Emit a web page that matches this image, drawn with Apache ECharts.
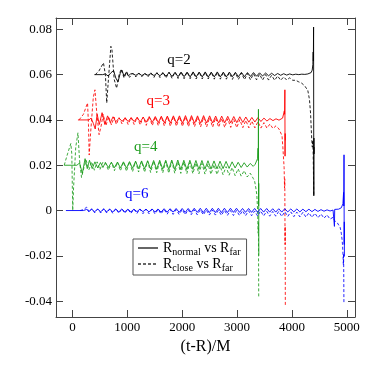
<!DOCTYPE html>
<html>
<head>
<meta charset="utf-8">
<script src="https://cdn.jsdelivr.net/npm/echarts@6/dist/echarts.min.js"></script>
<style>
body{margin:0;background:#fff}
#chart{width:374px;height:374px}
</style>
</head>
<body>
<div id="chart"></div>
<script>
// curves for q = 2, 3, 4, 6, shifted by offsets like in the paper figure
var curveNames = ['q=2', 'q=3', 'q=4', 'q=6'];
var offsets = [0.06, 0.04, 0.02, 0];
var midStart = [1100, 850, 600, 350];
var step = 55;
var xTicks = [0, 1000, 2000, 3000, 4000, 5000];
var yTicks = [-0.04, -0.02, 0, 0.02, 0.04, 0.06, 0.08];

// values below are in units of 1e-3, relative to the offset
// ---- q=2 ----
var q2SolidHead = [[400,0],[550,0],[600,0.3],[650,-0.6],[700,0.8],[750,1.8],[790,-1.5],[830,-3.2],[870,0.5],[900,2.0],[940,-0.6],[980,1.0],[1020,-0.6],[1060,0.4]];
var q2SolidMid = [0.4,-0.3,0.5,-0.4,0.4,-0.3, 0.5,-0.4,0.6,-0.5, 0.8,-0.7,0.9,-0.8, 1.0,-0.9,1.1,-0.9,
  1.1,-1.0,1.2,-1.0,1.1,-1.0, 1.2,-1.1,1.1,-1.0,1.2,-1.0, 1.1,-1.0,1.1,-0.9,1.0,-0.9,
  1.0,-0.9,0.9,-0.8,0.9,-0.7, 0.8,-0.6,0.7,-0.5,0.6,-0.4, 0.5,-0.3,0.4,-0.2,0.3,-0.1, 0.2,0.0,0.2,0.1,0.3];
var q2SolidTail = [[4320,0.4],[4350,0.9],[4370,2.0],[4382,4.5],[4388,10],[4391,6],[4395,21],[4397,-20],[4399,-53.5],[4401,-28],[4403,-35],[4405,-32]];
var q2DashHead = [[415,0],[480,1.5],[565,5.2],[600,0],[625,-12.5],[650,-4],[700,12.5],[720,11],[760,-2],[805,-6],[850,0],[890,2.5],[940,-1.5],[990,1.2],[1040,-1.2]];
var q2DashMid = [0.6,-1.0,0.7,-0.9,0.6,-1.0, 0.8,-1.2,0.9,-1.3, 1.0,-1.5,1.1,-1.6, 1.1,-1.7,1.2,-1.8,
  1.2,-1.8,1.1,-1.9,1.2,-1.9, 1.1,-1.9,1.1,-2.0,1.0,-2.0, 1.0,-2.0,0.9,-2.1,0.8,-2.1,
  0.7,-2.2,0.5,-2.3,0.4,-2.3, 0.2,-2.4,0.0,-2.4,-0.3,-2.5, -0.6,-2.5,-1.0,-2.4,-1.4,-2.5, -2.5,-3.2,-3.8,-5.0,-7.0];
var q2DashTail = [[4320,-11],[4340,-17],[4360,-28],[4372,-32],[4380,-29],[4388,-35],[4394,-45],[4398,-53.5]];

// ---- q=3 ----
var q3SolidHead = [[100,0],[300,0],[340,0.8],[380,-1.5],[415,-4],[450,2.5],[490,-2],[540,3.2],[590,-2],[640,1.8],[690,-1.2],[740,1.4],[790,-0.8]];
var q3SolidMid = [0.8,-0.6,0.9,-0.7,1.0,-0.7, 1.1,-0.9,1.2,-1.0,1.4,-1.1, 1.5,-1.2,1.6,-1.3,1.7,-1.4,
  1.8,-1.4,1.8,-1.5,1.9,-1.5, 1.9,-1.5,1.8,-1.5,1.9,-1.4, 1.8,-1.4,1.7,-1.4,1.7,-1.3,
  1.6,-1.3,1.5,-1.2,1.4,-1.1, 1.3,-1.0,1.1,-0.9,1.0,-0.7, 0.8,-0.5,0.6,-0.3,0.5,-0.1];
var q3SolidTail = [[3800,0.3],[3830,0.8],[3850,1.5],[3862,4],[3867,2.5],[3872,13.3],[3875,-16],[3877,-6],[3879,-9]];
var q3DashHead = [[120,0],[200,2.5],[275,7.5],[292,-2],[305,-15.5],[330,-6],[380,10],[410,13.3],[440,4],[485,-6.5],[520,-3],[560,2.5],[610,-2.5],[660,1.5],[710,-2.2],[760,1.2],[800,-2]];
var q3DashMid = [1.0,-1.8,1.1,-2.0,1.0,-2.0, 1.2,-2.2,1.3,-2.4,1.4,-2.5, 1.4,-2.6,1.5,-2.7,1.5,-2.8,
  1.5,-2.8,1.4,-2.9,1.4,-3.0, 1.3,-3.0,1.2,-3.1,1.1,-3.1, 1.0,-3.2,0.9,-3.2,0.7,-3.3,
  0.5,-3.3,0.3,-3.4,0.1,-3.4, -0.2,-3.5,-0.5,-3.5,-0.8,-3.6, -1.2,-3.6,-1.8,-3.8,-2.6,-4.0];
var q3DashTail = [[3800,-4.5],[3820,-7],[3835,-12],[3845,-16],[3858,-21],[3866,-30],[3870,-26],[3874,-48],[3876,-55],[3877,-47],[3878,-55],[3880,-82]];

// ---- q=4 ----
var q4SolidHead = [[-150,0],[80,0],[130,1.0],[180,-3.6],[230,2.9],[270,-1.5],[310,2.2],[360,-1.5],[410,1.5],[460,-1.2],[510,1.2],[555,-1.0]];
var q4SolidMid = [1.2,-1.0,1.3,-1.1,1.4,-1.2, 1.5,-1.3,1.6,-1.4,1.8,-1.5, 1.9,-1.6,2.0,-1.7,2.1,-1.8,
  2.2,-1.8,2.2,-1.9,2.3,-1.9, 2.3,-1.9,2.2,-1.9,2.2,-1.8, 2.1,-1.8,2.1,-1.7,2.0,-1.7,
  1.9,-1.6,1.8,-1.5,1.7,-1.4, 1.5,-1.2,1.3,-1.0,1.1,-0.8, 0.8,-0.5];
var q4SolidTail = [[3330,0.4],[3360,1.2],[3375,3],[3383,7.5],[3387,2],[3390,24.7],[3393,-18],[3395,-8],[3397,-40]];
var q4DashHead = [[-150,0],[-90,5],[-30,9.6],[-12,5],[5,-20],[20,-10],[60,8],[100,14.3],[130,2],[165,-5.4],[210,-1],[250,2.2],[300,-2],[350,1.5],[400,-2.2],[450,1.5],[500,-2],[550,1.2]];
var q4DashMid = [1.2,-2.2,1.3,-2.4,1.4,-2.5, 1.5,-2.7,1.6,-2.9,1.7,-3.0, 1.8,-3.1,1.8,-3.2,1.8,-3.3,
  1.7,-3.4,1.7,-3.5,1.6,-3.5, 1.5,-3.6,1.4,-3.7,1.2,-3.7, 1.0,-3.8,0.8,-3.9,0.5,-4.0,
  0.2,-4.1,-0.2,-4.2,-0.6,-4.4, -1.0,-4.6,-1.6,-4.8,-2.4,-5.2, -3.5,-5.8];
var q4DashTail = [[3320,-7],[3340,-9.6],[3360,-13],[3375,-20],[3385,-30],[3390,-25],[3392,-40],[3395,-58]];

// ---- q=6 ----
var q6SolidHead = [[-120,0],[200,0],[260,0.5],[300,-0.4]];
var q6SolidMid = [0.5,-0.5,0.6,-0.5,0.6,-0.5, 0.6,-0.6,0.7,-0.6,0.7,-0.6, 0.6,-0.6,0.6,-0.5,0.6,-0.5,
  0.6,-0.6,0.7,-0.6,0.7,-0.7, 0.8,-0.7,0.8,-0.7,0.9,-0.8, 0.9,-0.8,0.9,-0.8,1.0,-0.8,
  1.0,-0.9,1.0,-0.9,1.0,-0.9, 1.0,-0.9,1.0,-0.9,1.0,-0.8, 1.0,-0.8,0.9,-0.8,0.9,-0.8,
  0.9,-0.8,0.9,-0.7,0.9,-0.7, 0.8,-0.7,0.8,-0.7,0.8,-0.6, 0.7,-0.6,0.7,-0.6,0.6,-0.5,
  0.6,-0.5,0.5,-0.4,0.4,-0.3, 0.3,-0.2,0.2];
var q6SolidTail = [[4770,0.3],[4775,-7],[4780,0.5],[4850,0.6],[4900,1.2],[4930,3],[4942,8],[4946,2],[4950,24.6],[4953,-15],[4955,-5],[4957,-20.3]];
var q6DashHead = [[140,0],[200,0.4],[260,1.5],[300,-0.6]];
var q6DashMid = [0.8,-1.0,0.7,-1.1,0.8,-1.1, 0.7,-1.2,0.8,-1.2,0.7,-1.2, 0.6,-1.3,0.6,-1.3,0.7,-1.4,
  0.6,-1.4,0.6,-1.5,0.5,-1.5, 0.5,-1.6,0.5,-1.7,0.4,-1.7, 0.4,-1.8,0.4,-1.8,0.3,-1.9,
  0.3,-1.9,0.2,-2.0,0.2,-2.0, 0.1,-2.1,0.1,-2.1,0.0,-2.2, 0.0,-2.2,-0.1,-2.3,-0.1,-2.3,
  -0.2,-2.4,-0.2,-2.4,-0.3,-2.5, -0.4,-2.5,-0.4,-2.6,-0.5,-2.6, -0.6,-2.7,-0.7,-2.8,-0.8,-2.9,
  -1.0,-3.0,-1.2,-3.2,-1.5,-3.4, -1.9,-3.8,-3.0];
var q6DashTail = [[4780,-4.5],[4800,-5],[4830,-5.5],[4860,-6],[4880,-7.5],[4900,-10],[4915,-13],[4925,-16],[4932,-20],[4938,-24],[4942,-19],[4945,-28],[4948,-40.5]];

var solidParts = [
  [q2SolidHead, q2SolidMid, q2SolidTail],
  [q3SolidHead, q3SolidMid, q3SolidTail],
  [q4SolidHead, q4SolidMid, q4SolidTail],
  [q6SolidHead, q6SolidMid, q6SolidTail]
];
var dashParts = [
  [q2DashHead, q2DashMid, q2DashTail],
  [q3DashHead, q3DashMid, q3DashTail],
  [q4DashHead, q4DashMid, q4DashTail],
  [q6DashHead, q6DashMid, q6DashTail]
];

var colors = ['#000000', '#ff0000', '#1c9c1c', '#0000ff'];
var labelPos = [[1943, 0.0665], [1563, 0.0485], [1337, 0.028], [1173, 0.0074]];
var font = "'Liberation Serif', 'DejaVu Serif', serif";

function build(parts, k) {
  var pts = parts[0].slice();
  parts[1].forEach(function (v, i) { pts.push([midStart[k] + i * step, v]); });
  pts = pts.concat(parts[2]);
  return pts.map(function (p) { return [p[0], offsets[k] + p[1] * 0.001]; });
}

var series = [];
curveNames.forEach(function (name, k) {
  series.push({
    type: 'line', name: name + ' solid', data: build(solidParts[k], k),
    showSymbol: false, symbol: 'none', silent: true, animation: false,
    lineStyle: {color: colors[k], width: 1, opacity: 0.9}
  });
  series.push({
    type: 'line', name: name + ' dash', data: build(dashParts[k], k),
    showSymbol: false, symbol: 'none', silent: true, animation: false,
    lineStyle: {color: colors[k], width: 1, type: [3, 2], opacity: 0.85}
  });
});
// legend entries only
series.push({type: 'line', name: 'normal', data: [], symbol: 'none', itemStyle: {color: '#666'}, lineStyle: {color: '#666', width: 1}});
series.push({type: 'line', name: 'close', data: [], symbol: 'none', itemStyle: {color: '#666'}, lineStyle: {color: '#666', width: 1, type: [3, 2]}});

var frame = {onZero: false, lineStyle: {color: '#444', width: 1}};
var chart = echarts.init(document.getElementById('chart'));
chart.setOption({
  animation: false,
  backgroundColor: '#fff',
  grid: {left: 56, right: 19, top: 18, bottom: 57},
  legend: {
    data: ['normal', 'close'],
    orient: 'vertical',
    left: 133, top: 239,
    padding: [2, 6, 2, 4],
    itemGap: 0,
    itemWidth: 20, itemHeight: 10,
    itemStyle: {opacity: 0},
    borderColor: '#555', borderWidth: 1,
    selectedMode: false,
    formatter: function (n) {
      return n === 'normal' ? '{r|R}{s|normal}{r| vs R}{s|far}' : '{r|R}{s|close}{r| vs R}{s|far}';
    },
    textStyle: {
      color: '#000', fontFamily: font,
      rich: {
        r: {fontSize: 14, fontFamily: font, color: '#000', lineHeight: 18, verticalAlign: 'middle'},
        s: {fontSize: 10, fontFamily: font, color: '#000', lineHeight: 18, verticalAlign: 'bottom'}
      }
    }
  },
  xAxis: [{
    type: 'value', min: -300, max: 5150, position: 'bottom',
    name: '(t-R)/M', nameLocation: 'middle', nameGap: 22,
    nameTextStyle: {fontFamily: font, fontSize: 16, color: '#000'},
    axisLine: frame,
    axisTick: {inside: true, length: 7, customValues: xTicks, lineStyle: {color: '#444'}},
    axisLabel: {customValues: xTicks, margin: 4, fontFamily: font, fontSize: 13, color: '#000',
      formatter: function (v) { return String(Math.round(v)); }},
    splitLine: {show: false}
  }, {
    type: 'value', min: -300, max: 5150, position: 'top',
    axisLine: frame,
    axisTick: {inside: true, length: 7, customValues: xTicks, lineStyle: {color: '#444'}},
    axisLabel: {show: false},
    splitLine: {show: false}
  }],
  yAxis: [{
    type: 'value', min: -0.047, max: 0.085, position: 'left',
    axisLine: frame,
    axisTick: {inside: true, length: 7, customValues: yTicks, lineStyle: {color: '#444'}},
    axisLabel: {
      customValues: yTicks, margin: 4, fontFamily: font, fontSize: 13, color: '#000',
      formatter: function (v) { return Math.abs(v) < 1e-9 ? '0' : v.toFixed(2); }
    },
    splitLine: {show: false}
  }, {
    type: 'value', min: -0.047, max: 0.085, position: 'right',
    axisLine: frame,
    axisTick: {inside: true, length: 7, customValues: yTicks, lineStyle: {color: '#444'}},
    axisLabel: {show: false},
    splitLine: {show: false}
  }],
  series: series
});

// q labels
var texts = curveNames.map(function (name, k) {
  var p = chart.convertToPixel({xAxisIndex: 0, yAxisIndex: 0}, labelPos[k]);
  return {
    type: 'text', x: p[0], y: p[1],
    style: {text: name, fill: colors[k], font: '15px ' + font, textAlign: 'center', textVerticalAlign: 'middle'}
  };
});
chart.setOption({graphic: texts});
</script>
</body>
</html>
